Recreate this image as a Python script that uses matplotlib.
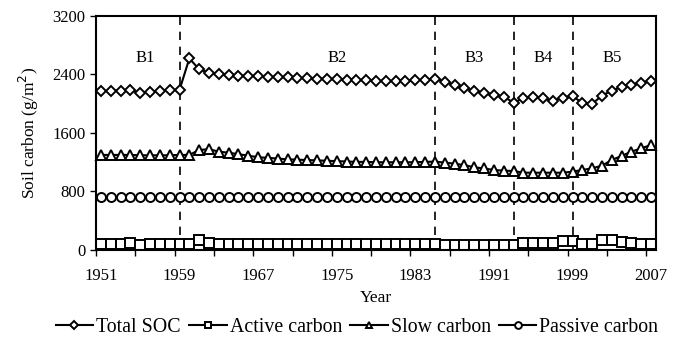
import matplotlib
matplotlib.use("Agg")
import matplotlib.pyplot as plt
import numpy as np

years = list(range(1951, 2008))

total_soc = [2170, 2180, 2180, 2185, 2150, 2165, 2180, 2190, 2190,
             2620, 2470, 2425, 2400, 2390, 2385, 2380, 2375, 2370, 2365, 2360,
             2355, 2350, 2345, 2340, 2335, 2330, 2325, 2320, 2315, 2310,
             2310, 2315, 2320, 2330, 2345,
             2300, 2257, 2211, 2180, 2143, 2120, 2097, 2015,
             2075, 2090, 2075, 2040, 2080, 2106,
             2010, 2000, 2110, 2180, 2225, 2257, 2289, 2312]

active_carbon = [85, 85, 85, 95, 70, 80, 80, 80, 80,
                 85, 135, 95, 82, 82, 81, 81, 80, 80, 80, 80,
                 79, 79, 79, 78, 78, 78, 78, 77, 77, 77,
                 77, 76, 76, 85, 85,
                 75, 75, 75, 75, 75, 75, 72, 65,
                 95, 95, 95, 95, 120, 120,
                 80, 80, 130, 130, 115, 100, 85, 85]

slow_carbon = [1300, 1300, 1300, 1300, 1295, 1295, 1295, 1295, 1300,
               1300, 1368, 1378, 1345, 1330, 1310, 1290, 1268, 1260, 1250, 1240,
               1235, 1230, 1225, 1220, 1215, 1210, 1205, 1205, 1200, 1200,
               1200, 1200, 1200, 1205, 1208,
               1195, 1180, 1160, 1131, 1115, 1094, 1085, 1080,
               1057, 1057, 1057, 1057, 1057, 1071,
               1094, 1117, 1153, 1231, 1286, 1345, 1391, 1436]

passive_carbon = [730] * 57

period_bounds = [1959, 1985, 1993, 1999]
period_labels = ["B1", "B2", "B3", "B4", "B5"]
period_label_x = [1955.5, 1975, 1989, 1996, 2003]

plt.rcParams['font.family'] = ['Liberation Serif', 'DejaVu Serif']

fig = plt.figure(figsize=(6.83, 3.38), dpi=100)
ax = fig.add_axes([0.1406, 0.2604, 0.8199, 0.6923])

mk = dict(color='black', markerfacecolor='white', markeredgecolor='black',
          markersize=6.5, markeredgewidth=1.4, linewidth=1.5, clip_on=False)
ax.plot(years, total_soc, marker='D', label='Total SOC', **{**mk, 'markersize': 5.5})
ax.plot(years, active_carbon, marker='s', label='Active carbon', **mk)
ax.plot(years, slow_carbon, marker='^', label='Slow carbon', **mk)
ax.plot(years, passive_carbon, marker='o', label='Passive carbon', **mk)

for b in period_bounds:
    ax.axvline(b, color='black', linestyle=(0, (5, 4)), linewidth=1.2, zorder=0)

for lx, lab in zip(period_label_x, period_labels):
    ax.text(lx, 2620, lab, ha='center', va='center', fontsize=12)

ax.set_xlim(1950.5, 2007.5)
ax.set_ylim(0, 3200)
ax.set_yticks([0, 800, 1600, 2400, 3200])
ax.set_xticks(np.arange(1950.5, 2008, 4))
ax.set_xticklabels([])
ax.set_xticks(np.arange(1951, 2008, 8), minor=True)
ax.set_xticklabels([str(y) for y in range(1951, 2008, 8)], minor=True)
ax.tick_params(axis='x', which='minor', length=0, pad=13, labelsize=12)
ax.tick_params(axis='x', which='major', direction='out', length=4, width=1)
ax.tick_params(axis='y', direction='out', length=4, width=1, labelsize=12)
for s in ax.spines.values():
    s.set_linewidth(1.5)

ax.set_xlabel('Year', fontsize=12.5, labelpad=4)
ax.set_ylabel('Soil carbon (g/m$^2$)', fontsize=12.5, labelpad=8)

ax.legend(loc='center', bbox_to_anchor=(0.466, -0.33), ncol=4, frameon=False,
          fontsize=14.3, handlelength=1.9, handletextpad=0.15, columnspacing=0.4,
          markerscale=0.75)

fig.savefig('out.png', dpi=100)
